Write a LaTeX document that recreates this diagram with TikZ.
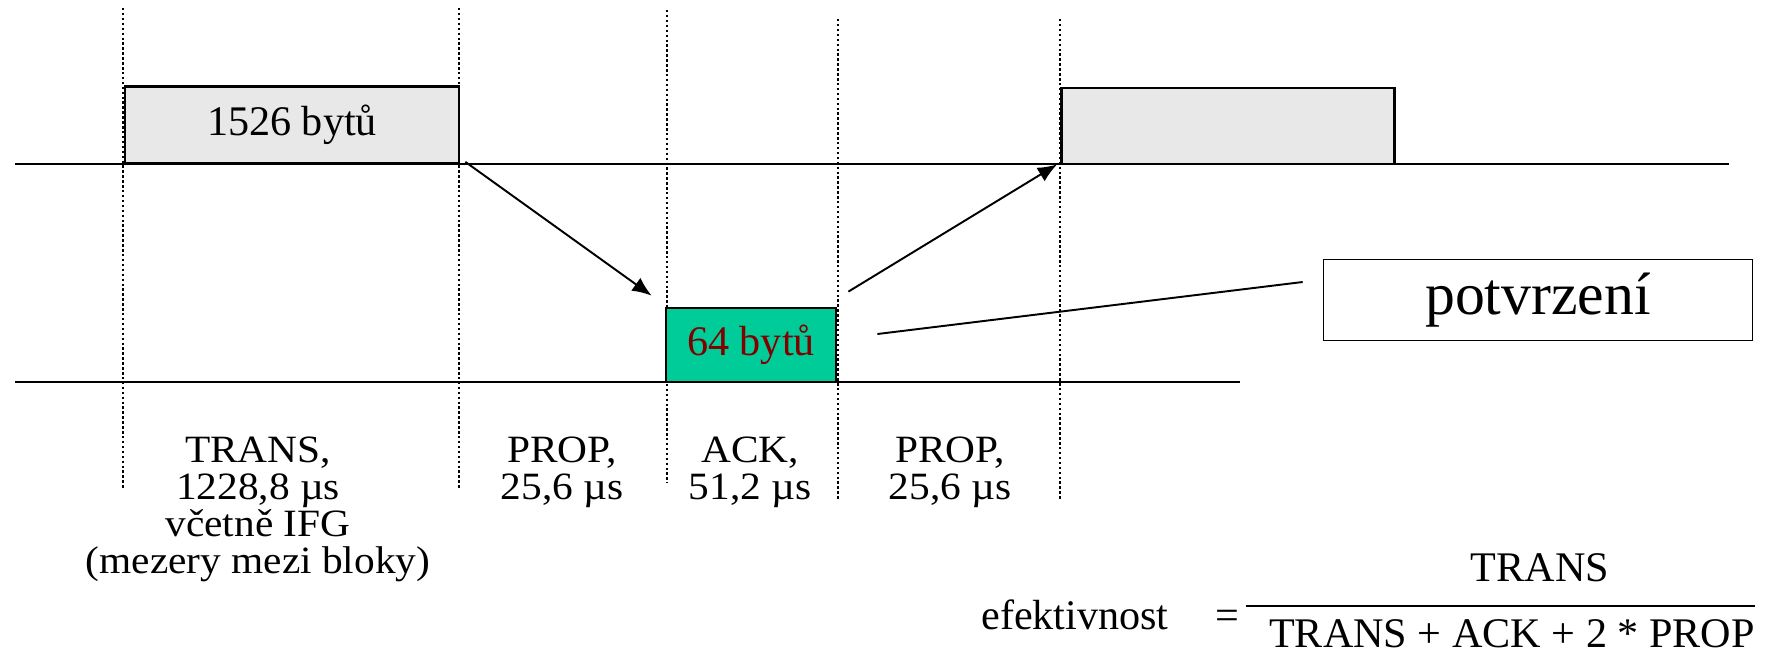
\documentclass[tikz,border=0pt]{standalone}
\usepackage{fontspec}
\setmainfont{Liberation Serif}
\newfontfamily\timingfont[FakeStretch=1.07]{Liberation Serif}
\usetikzlibrary{positioning,arrows.meta,calc}
\definecolor{framegray}{HTML}{E8E8E8}
\definecolor{ackgreen}{HTML}{00CC99}
\definecolor{ackred}{HTML}{800000}
\tikzset{
    x=0.02cm,
    y=-0.02cm,
    frame/.style = {
        draw,
        shape=rectangle,
        fill=framegray,
        inner sep=0pt,
        minimum width=6.68cm,
        minimum height=1.54cm,
        line width=1.6pt,
        font=\fontsize{24}{20}\selectfont
    },
    ackframe/.style = {
        draw,
        shape=rectangle,
        fill=ackgreen,
        text=ackred,
        inner sep=0pt,
        minimum width=3.40cm,
        minimum height=1.48cm,
        line width=1.6pt,
        font=\fontsize{24}{20}\selectfont
    },
    note/.style = {
        draw,
        shape=rectangle,
        inner sep=0pt,
        minimum width=8.58cm,
        minimum height=1.62cm,
        line width=1pt,
        font=\fontsize{34}{34}\selectfont
    },
    timing/.style = {
        align=center,
        inner sep=0pt,
        anchor=north,
        font=\timingfont\fontsize{22}{21}\selectfont
    },
    formula/.style = {
        inner sep=0pt,
        anchor=base,
        font=\fontsize{24}{20}\selectfont
    },
    wire/.style = {line width=1.6pt},
    slot/.style = {line width=1.1pt, dash pattern=on 1.4pt off 1.4pt},
    >={Latex[length=11pt,width=9pt]},
}
\begin{document}
\begin{tikzpicture}
    \useasboundingbox (0,0) rectangle (1789,654);

    % time slots
    \draw[slot] (123,8) -- (123,488);
    \draw[slot] (459,8) -- (459,488);
    \draw[slot] (667,10) -- (667,483);
    \draw[slot] (838,19) -- (838,499);
    \draw[slot] (1060,19) -- (1060,499);

    % stations
    \draw[wire] (15,164) -- (1729,164);
    \draw[wire] (15,382) -- (1240,382);

    \node[frame] (data) at (292,125) {1526 bytů};
    \node[frame, minimum width=6.66cm, minimum height=1.52cm] (next) at (1228,126) {};
    \node[ackframe] (ack) at (751,345) {64 bytů};
    \node[note] (ackname) at (1538,300) {potvrzení};

    %connect
    \draw[->, line width=1.1pt] ([shift={(5,-3)}]data.south east) -- ([shift={(-13,-11)}]ack.north west);
    \draw[->, line width=1.1pt] ([shift={(11,-15)}]ack.north east) -- ([shift={(-3,-1)}]next.south west);
    \draw[line width=1.1pt] ([shift={(40,-11)}]ack.east) -- ([shift={(-20,-18)}]ackname.west);

    % times
    \node[timing] (trans) at (258,437) {TRANS,\\1228,8 µs\\včetně IFG\\(mezery mezi bloky)};
    \node[timing] (prop1) at (562,437) {PROP,\\25,6 µs};
    \node[timing] (acktime) at (750,437) {ACK,\\51,2 µs};
    \node[timing] (prop2) at (950,437) {PROP,\\25,6 µs};

    % efficiency
    \node[formula] (eff) at (1075,629) {efektivnost};
    \node[formula] (eq) at (1227,629) {=};
    \node[formula] (num) at (1540,581) {TRANS};
    \node[formula] (den) at (1512,647) {TRANS + ACK + 2 * PROP};
    \draw[line width=1.3pt] (1246,606) -- (1755,606);

\end{tikzpicture}
\end{document}
